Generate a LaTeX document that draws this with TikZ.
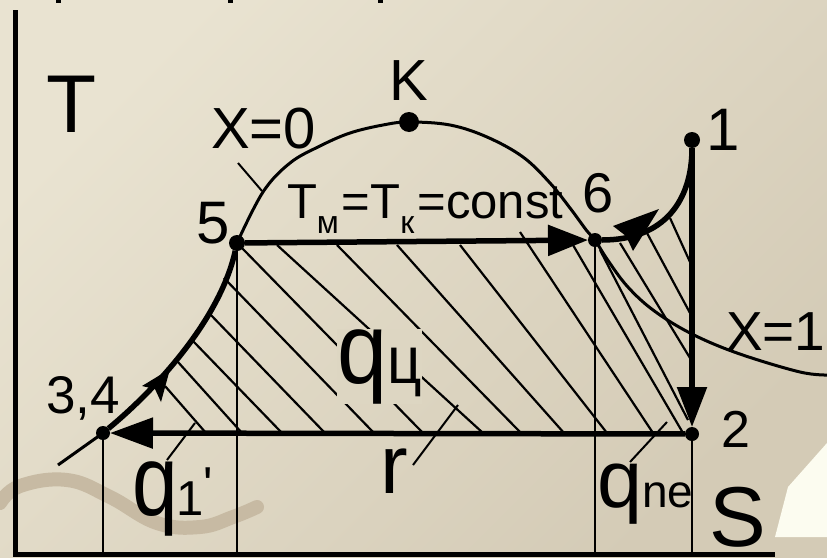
\documentclass[tikz,border=0pt]{standalone}
\usepackage{fontspec}
\setmainfont{Liberation Sans}
\newfontfamily\plainsans{Liberation Sans}
\usetikzlibrary{arrows.meta}

\definecolor{bgUL}{RGB}{233,227,209}
\definecolor{bgLR}{RGB}{212,203,182}
\definecolor{qbg}{RGB}{221,214,194}
\definecolor{wavec}{RGB}{199,186,163}
\definecolor{paperw}{RGB}{252,252,240}

\newcommand\fsz[1]{\fontsize{#1}{#1}\selectfont}

\tikzset{
  axisline/.style={line width=5pt},
  thickline/.style={line width=5.5pt},
  thinline/.style={line width=2.4pt},
  hatchline/.style={line width=2.2pt},
  domeline/.style={line width=3pt},
  leaderline/.style={line width=2pt},
  wavestroke/.style={line width=14pt, line cap=round, draw=wavec},
  dotpt/.style={circle, fill=black, inner sep=0pt, outer sep=0pt, minimum size=#1},
  lbl/.style={inner sep=0pt, outer sep=0pt, text=black},
}

\begin{document}
\begin{tikzpicture}[x=1pt,y=-1pt]
\useasboundingbox (0,0) rectangle (827,557);
% background
\shade[top color=bgUL, bottom color=bgLR, shading angle=45] (0,0) rectangle (827,557);
\fill[paperw] (775,537) -- (788,487) -- (827,443) -- (827,537) -- cycle;
% tiny marks at top edge
\fill (56,0) rectangle (61,3);
\fill (228,0) rectangle (233,3);
\fill (378,0) rectangle (383,3);
% wave stroke
\draw[wavestroke] plot[smooth, tension=0.7] coordinates {(0,503) (20,486) (67,480) (110,497) (157,523) (200,527) (233,517) (257,507)};

% points
\node[dotpt=14pt] (d34) at (103,433) {};
\node[dotpt=16pt] (d5) at (237,243) {};
\node[dotpt=20pt] (dK) at (409,122) {};
\node[dotpt=14pt] (d6) at (595,240) {};
\node[dotpt=16pt] (d1) at (692,140) {};
\node[dotpt=14pt] (d2) at (692,434) {};

% axes
\coordinate (ytop) at (15.5,10);
\coordinate (orig) at (15.5,554);
\coordinate (xend) at (775,554);
\draw[axisline] (ytop) -- (orig) -- (xend);

% hatching
\foreach \xa/\ya/\xb/\yb in {
  165/386/206/433, 178/362/242/433, 192/340/282/433, 208/312/325/433,
  224/278/374/433, 239/245/423/433, 277/245/483/433, 337/245/521/433,
  397/245/564/433, 460/245/607/433, 520/232/653/433, 573/245/683/433,
  600/250/688/420, 620/243/690/358, 647/233/690/313, 670/218/690/262}
  \draw[hatchline] (\xa,\ya) -- (\xb,\yb);

% drop lines
\coordinate (b34) at (103,554);
\coordinate (b5) at (237,554);
\coordinate (b6) at (595,554);
\coordinate (b2) at (692,554);
\draw[thinline] (d34.center) -- (b34);
\draw[thinline] (d5.center) -- (b5);
\draw[thinline] (d6.center) -- (b6);
\draw[thinline] (d2.center) -- (b2);

% saturation dome
\coordinate (tail) at (58,465);
\draw[domeline] (tail) -- (d34.center);
\draw[domeline] plot[smooth, tension=0.6] coordinates {(237,243) (263,192) (290,163) (320,146) (350,133) (383,125) (409,122) (450,125) (487,137) (523,157) (550,183) (570,208) (587,231) (595,240) (607,259) (627,286) (653,310) (690,333) (737,353) (800,372) (830,375)};

% leader lines
\coordinate (x0a) at (238,163); \coordinate (x0b) at (262,191);
\coordinate (q1a) at (167,460); \coordinate (q1b) at (195,423);
\coordinate (ra) at (413,465); \coordinate (rb) at (458,405);
\coordinate (qna) at (630,462); \coordinate (qnb) at (667,422);
\draw[leaderline] (x0a) -- (x0b);
\draw[leaderline] (q1a) -- (q1b);
\draw[leaderline] (ra) -- (rb);
\draw[leaderline] (qna) -- (qnb);

% cycle lines
\draw[thickline, -{Triangle[length=40pt,width=30pt]}] (d5) -- (d6);
\draw[thickline, -{Triangle[length=43pt,width=30pt]}] (d2) -- (d34);
\draw[thickline, -{Triangle[length=40pt,width=29pt]}] (d1) -- (d2);
\draw[thickline] (d34) .. controls (155,390) and (220,320) .. (d5);
\draw[thickline] (d6) .. controls (665,240) and (692,200) .. (d1);
% arrowheads on the curved strokes
\fill (170,369) -- (142,386) -- (155,389) -- (161,402) -- cycle;
\fill (659,209) -- (613,226) -- (626,236) -- (633,251) -- cycle;

% labels
\node[lbl, anchor=base] (tT) at (72,132) {\fsz{82}T};
\node[lbl, anchor=base] (tK) at (409,100) {\fsz{58}K};
\node[lbl, anchor=base] (tX0) at (263.5,148) {\fsz{58}X=0};
\node[lbl, anchor=base] (t5) at (213,243) {\fsz{60}5};
\node[lbl, anchor=base] (t6) at (598,212) {\fsz{56}6};
\node[lbl, anchor=base] (t1) at (723,150) {\fsz{60}1};
\node[lbl, anchor=base west] (tX1) at (726,350) {\fsz{55}X=1};
\node[lbl, anchor=base] (t2) at (736,447) {\fsz{52}2};
\node[lbl, anchor=base west] (t34) at (46,413) {\fsz{53}3,4};
\node[lbl, anchor=base west] (tTc) at (287,218) {\fsz{49}T\raisebox{-15pt}{\fsz{32}м}\hspace{3pt}=T\raisebox{-15pt}{\fsz{32}к}\hspace{3pt}=const};
\node[lbl, anchor=base west, fill=qbg] (tq) at (337,383) {\scalebox{0.9}[1]{\fsz{100}q\fsz{67}ц}};
\node[lbl, anchor=base west] (tr) at (380.5,493) {\fsz{83}r};
\node[lbl, anchor=base west] (tq1) at (132,515) {\scalebox{0.82}[1]{\fsz{100}q}\hspace{-1pt}\fsz{49}1\raisebox{14pt}{\plainsans '}};
\node[lbl, anchor=base west] (tqne) at (597,507) {\fsz{81}q\fsz{46}ne};
\node[lbl, anchor=base] (tS) at (737.5,546) {\fsz{85}S};
\end{tikzpicture}
\end{document}
